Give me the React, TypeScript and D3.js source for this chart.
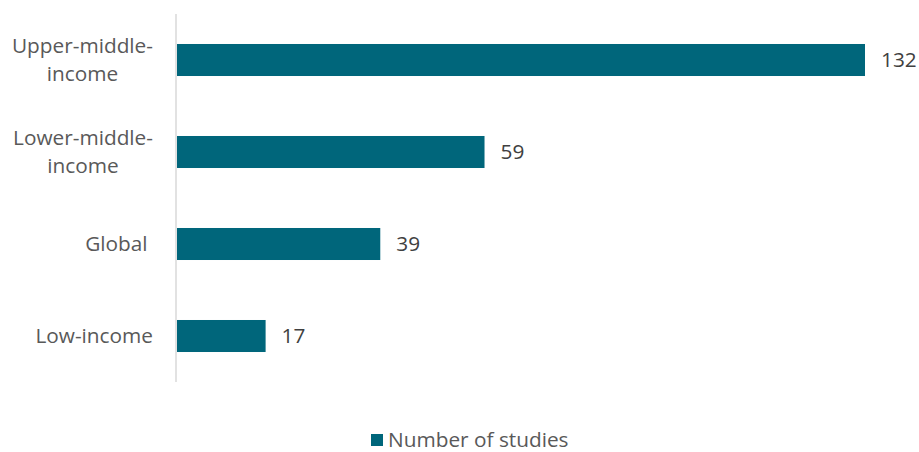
import React from "react";
import * as d3 from "d3";

const categories: string[][] = [["Upper-middle-", "income"], ["Lower-middle-", "income"], ["Global "], ["Low-income"]];
const values: number[] = [132, 59, 39, 17];
const seriesName = "Number of studies";

const W = 919, H = 452;
const FONT = "'Open Sans', sans-serif";
const BAR = "#00667b";

function measure(t: string, size: number) {
  const c = document.createElement("canvas").getContext("2d")!;
  c.font = `${size}px 'Open Sans'`;
  return c.measureText(t).width;
}

export default function App() {
  const x = d3.scaleLinear().domain([0, 132]).range([177, 865]);
  const y = d3.scaleBand<number>().domain(d3.range(values.length)).range([14, 382]).paddingInner(0.652).paddingOuter(0.326);
  const fs = 20.8;
  const labelRight = 153;
  return (
    <svg width={W} height={H} style={{ position: "absolute", left: 0, top: 0, fontFamily: FONT }}>
      <line x1={176} x2={176} y1={14} y2={382} stroke="#d9d9d9" strokeWidth={1.5} />
      {values.map((v, i) => {
        const y0 = y(i)!;
        const bw = y.bandwidth();
        const lines = categories[i];
        const maxW = Math.max(...lines.map((l) => measure(l, fs)));
        const cx = labelRight - maxW / 2;
        const lh = 28;
        const cy = y0 + bw / 2;
        return (
          <g key={i}>
            <rect x={x(0)} y={y0} width={x(v) - x(0)} height={bw} fill={BAR} />
            <text x={x(v) + 16} y={cy} dy="0.35em" fontSize={fs} fill="#404040">{v}</text>
            {lines.map((l, j) => (
              <text key={j} x={cx} y={cy + (j - (lines.length - 1) / 2) * lh} dy="0.35em" textAnchor="middle" fontSize={fs} fill="#595959" style={{ whiteSpace: "pre" }}>{l}</text>
            ))}
          </g>
        );
      })}
      <rect x={371} y={434} width={12} height={12} fill={BAR} />
      <text x={388} y={440} dy="0.35em" fontSize={fs} fill="#595959">{seriesName}</text>
    </svg>
  );
}
